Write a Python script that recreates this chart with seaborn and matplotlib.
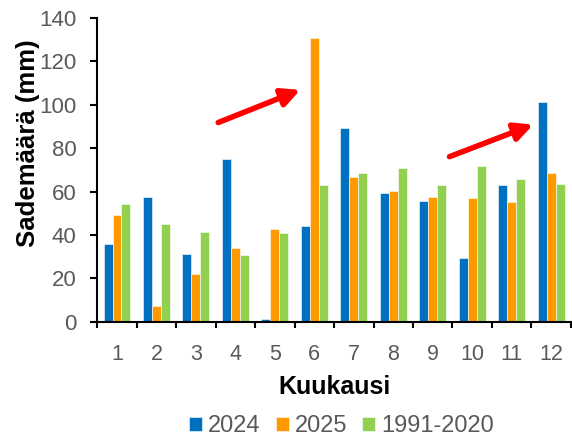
import pandas as pd
import numpy as np
import matplotlib
matplotlib.use("Agg")
import matplotlib.pyplot as plt
import seaborn as sns

# Monthly precipitation (mm)
months = [str(m) for m in range(1, 13)]
rain_2024 = [35.7, 57.5, 31.2, 75.1, 1.1, 44.3, 89.2, 59.5, 55.7, 29.4, 63.1, 101.1]
rain_2025 = [49.2, 7.4, 22.0, 34.2, 42.8, 130.9, 66.5, 60.2, 57.5, 56.9, 55.4, 68.6]
rain_norm = [54.2, 44.9, 41.4, 30.8, 40.8, 62.8, 68.5, 70.9, 63.2, 71.8, 66.0, 63.5]
series_names = ["2024", "2025", "1991-2020"]
colors = ["#0070C0", "#FF9900", "#92D050"]

sns.set_theme(style="white")
plt.rcParams['font.family'] = ['Liberation Sans', 'DejaVu Sans']

df = pd.DataFrame({
    "Kuukausi": months * 3,
    "Sade": rain_2024 + rain_2025 + rain_norm,
    "Sarja": [s for s in series_names for _ in months],
})

fig = plt.figure(figsize=(5.72, 4.36), dpi=100)
ax = fig.add_axes([0.170, 0.262, 0.828, 0.697])

sns.barplot(data=df, x="Kuukausi", y="Sade", hue="Sarja", palette=colors,
            width=0.68, saturation=1, edgecolor="white", linewidth=0.4, ax=ax)

ax.set_ylim(0, 140)
ax.set_xlim(-0.5, 11.5)
ax.set_yticks(np.arange(0, 141, 20))
ax.set_xticks(np.arange(-0.5, 12, 1), minor=True)

for s in ["top", "right"]:
    ax.spines[s].set_visible(False)
for s in ["left", "bottom"]:
    ax.spines[s].set_color("black")
    ax.spines[s].set_linewidth(1.5)

ax.tick_params(axis="x", which="major", length=0, pad=16, labelsize=15.5, labelcolor="#595959")
ax.tick_params(axis="x", which="minor", length=4, width=1.5, color="black", direction="out", bottom=True)
ax.tick_params(axis="y", length=5, width=1.5, color="black", direction="out", left=True,
               labelsize=16, labelcolor="#595959", pad=10)

ax.set_xlabel("Kuukausi", fontsize=18, fontweight="bold", color="black")
ax.xaxis.set_label_coords(0.5, -0.175)
ax.set_ylabel("Sademäärä (mm)", fontsize=18.5, fontweight="bold", color="black")
ax.yaxis.set_label_coords(-0.12, 0.588)

# Red arrows highlighting the peaks
arrow_kw = dict(arrowstyle="-|>,head_length=0.9,head_width=0.45", color="#FF0000", lw=4)
ax.annotate("", xy=(4.71, 107.3), xytext=(2.50, 91.3), arrowprops=arrow_kw)
ax.annotate("", xy=(10.61, 91.3), xytext=(8.36, 75.6), arrowprops=arrow_kw)

leg = ax.legend(loc="center", bbox_to_anchor=(0.516, -0.343), ncol=3, frameon=False,
                fontsize=17, handlelength=0.55, handleheight=0.55, handletextpad=0.25,
                columnspacing=0.64, borderpad=0)
for t in leg.get_texts():
    t.set_color("#595959")

fig.savefig("out.png", dpi=100)
